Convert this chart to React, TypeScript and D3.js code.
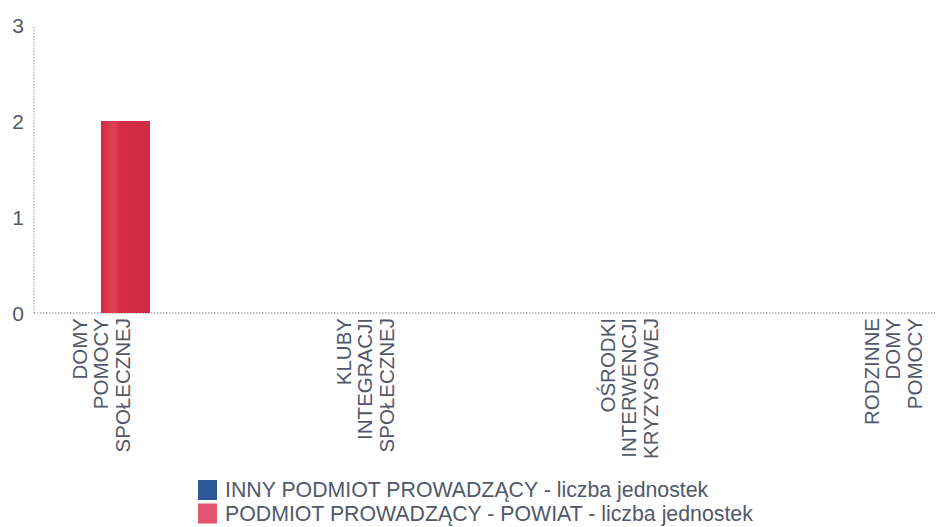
import React, { useRef, useEffect } from 'react'
import * as d3 from 'd3'

const categories = [
  ['DOMY', 'POMOCY', 'SPOŁECZNEJ'],
  ['KLUBY', 'INTEGRACJI', 'SPOŁECZNEJ'],
  ['OŚRODKI', 'INTERWENCJI', 'KRYZYSOWEJ'],
  ['RODZINNE', 'DOMY', 'POMOCY'],
]
const seriesNames = [
  'INNY PODMIOT PROWADZĄCY - liczba jednostek',
  'PODMIOT PROWADZĄCY - POWIAT - liczba jednostek',
]
const innyValues = [0, 0, 0, 0]
const powiatValues = [2, 0, 0, 0]
const yTicks = [0, 1, 2, 3]
const colors = ['#2d5a96', '#d52b46']
const legendColors = ['#2d5a96', '#e0566f']

export default function App() {
  const svgRef = useRef<SVGSVGElement>(null)

  useEffect(() => {
    document.body.style.margin = '0'
    const svg = d3.select(svgRef.current)
    svg.selectAll('*').remove()

    const width = 941, height = 527
    const font = 'Liberation Sans, Arial, sans-serif'
    const textColor = '#52586a'
    svg.attr('width', width).attr('height', height).style('display', 'block')

    // subtle vertical shading on the bars
    const grad = svg.append('defs').append('linearGradient').attr('id', 'redBar')
      .attr('x1', '0%').attr('x2', '100%').attr('y1', '0%').attr('y2', '0%')
    ;[['0%', '#d12844'], ['25%', '#e04458'], ['40%', '#d52b46'], ['100%', '#d22a44']].forEach(([o, c]) =>
      grad.append('stop').attr('offset', o).attr('stop-color', c))

    const keys = categories.map(c => c.join(' '))
    const x = d3.scaleBand<string>().domain(keys).range([-31, 1025])
    const y = d3.scaleLinear().domain([0, 3]).range([313, 25])
    const half = 49
    const xSub = d3.scaleBand<number>().domain([0, 1])
      .range([x.bandwidth() / 2 - half, x.bandwidth() / 2 + half])

    // y tick labels
    svg.append('g').selectAll('text').data(yTicks).join('text')
      .attr('x', 24).attr('y', d => y(d)).attr('dy', '0.36em')
      .attr('text-anchor', 'end').attr('font-family', font).attr('font-size', '21px')
      .attr('fill', textColor).text(d => d)

    // axis lines
    svg.append('line')
      .attr('x1', 34).attr('x2', 34).attr('y1', y(3) + 2).attr('y2', y(0))
      .attr('stroke', '#8a95a8').attr('stroke-dasharray', '1.5 1.5')
    svg.append('line')
      .attr('x1', 34).attr('x2', 935).attr('y1', y(0)).attr('y2', y(0))
      .attr('stroke', '#7a808c').attr('stroke-dasharray', '1.5 1.5')

    // category labels (rotated, drawn under bars)
    const lab = svg.append('g')
    categories.forEach((lines, i) => {
      const cx = (x(keys[i]) ?? 0) + x.bandwidth() / 2
      const t = lab.append('text')
        .attr('transform', `translate(${cx},318) rotate(-90)`)
        .attr('text-anchor', 'end').attr('font-family', font).attr('font-size', '20.5px')
        .attr('fill', textColor)
      lines.forEach((l, j) => {
        t.append('tspan').attr('x', 0).attr('y', (j - 1) * 21.5 + 7).text(l)
      })
    })

    // bars
    const data = keys.map((k, i) => ({ k, vals: [innyValues[i], powiatValues[i]] }))
    const grp = svg.append('g').selectAll('g').data(data).join('g')
      .attr('transform', d => `translate(${x(d.k)},0)`)
    grp.selectAll('rect').data(d => d.vals.map((v, s) => ({ v, s }))).join('rect')
      .attr('x', d => xSub(d.s) ?? 0).attr('width', xSub.bandwidth())
      .attr('y', d => y(d.v)).attr('height', d => y(0) - y(d.v))
      .attr('fill', d => d.s === 1 ? 'url(#redBar)' : colors[d.s])

    // legend
    const legend = svg.append('g').attr('transform', 'translate(198,480)')
    seriesNames.forEach((name, i) => {
      legend.append('rect').attr('x', 0).attr('y', i * 23.5).attr('width', 19).attr('height', 20)
        .attr('fill', legendColors[i])
      legend.append('text').attr('x', 27).attr('y', i * 23.5 + 17)
        .attr('font-family', font).attr('font-size', '21.3px').attr('fill', textColor)
        .text(name)
    })
  }, [])

  return <svg ref={svgRef} />
}
